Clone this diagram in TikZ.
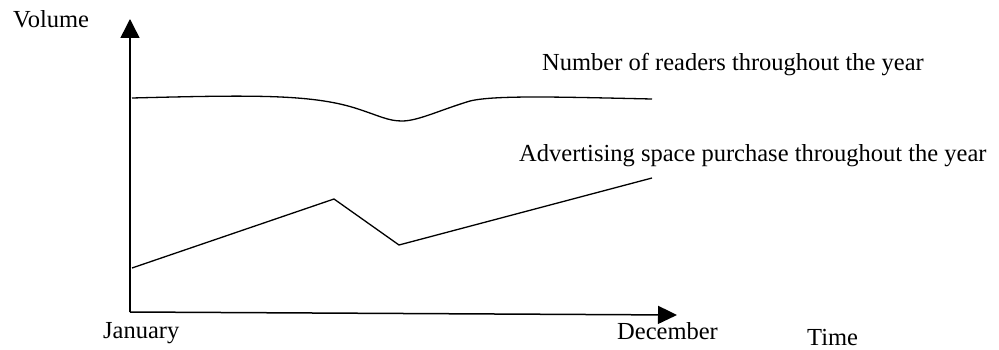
\documentclass[tikz,border=0pt]{standalone}
\usepackage{fontspec}
\setmainfont{Liberation Serif}
\usetikzlibrary{arrows.meta}
\begin{document}
\begin{tikzpicture}[x=1pt,y=-1pt,
  lbl/.style={anchor=base west,inner sep=0pt,font=\fontsize{24.5}{28}\selectfont},
  axis/.style={line width=1.5pt},
  curve/.style={line width=1.3pt,line join=round}]
\useasboundingbox (0,0) rectangle (999,350);
\coordinate (O) at (130,312);
\coordinate (Ytip) at (130,19);
\coordinate (Xtip) at (677,315);
\draw[axis,-{Triangle[length=19pt,width=19pt]}] (O) -- (Ytip);
\draw[axis,-{Triangle[length=19pt,width=18pt]}] (O) -- (Xtip);
% readers curve
\draw[curve] (132,98) .. controls (250,95) and (310,94) .. (355,108)
  .. controls (380,116) and (388,121) .. (402,121)
  .. controls (418,121) and (440,110) .. (470,101)
  .. controls (495,95) and (560,97) .. (652,99);
% advertising line
\draw[curve] (132,268) -- (334,199) -- (399,245) -- (652,178);
\node[lbl] (vol) at (13,28) {Volume};
\node[lbl] (read) at (542,71) {Number of readers throughout the year};
\node[lbl] (adv) at (519,162) {Advertising space purchase throughout the year};
\node[lbl] (jan) at (103,338) {January};
\node[lbl] (dec) at (617,339) {December};
\node[lbl] (time) at (807,345) {Time};
\end{tikzpicture}
\end{document}
